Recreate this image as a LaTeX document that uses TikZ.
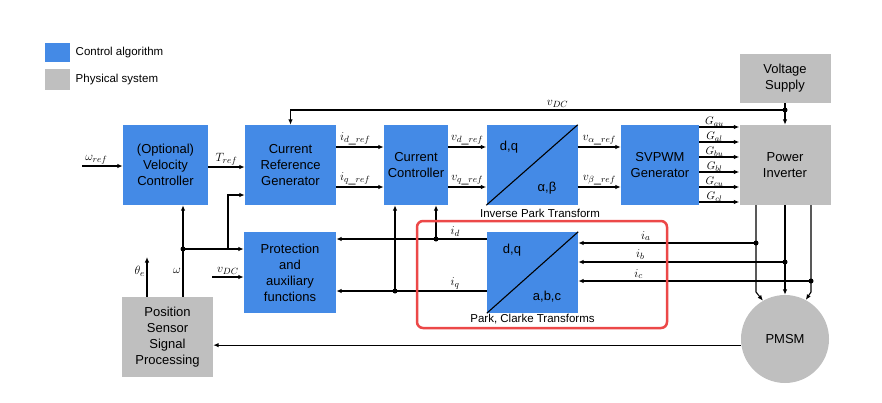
\documentclass[tikz,border=0pt]{standalone}
\usepackage{fontspec}
\setmainfont{Liberation Sans}
\usetikzlibrary{arrows.meta,positioning,calc}

\definecolor{ctrlblue}{RGB}{68,138,230}
\definecolor{physgray}{RGB}{191,191,191}
\definecolor{hired}{RGB}{236,72,72}

\begin{document}
\begin{tikzpicture}[
    x=1pt, y=-1pt,
    ctrl/.style={rectangle, fill=ctrlblue, align=center, inner sep=0pt, font=\fontsize{13}{16}\selectfont},
    phys/.style={ctrl, fill=physgray},
    arrow/.style={-{Latex[length=5.5pt,width=4.5pt]}, line width=1.1pt},
    lbl/.style={font=\fontsize{11.5}{13}\selectfont},
    sig/.style={font=\fontsize{12.5}{14}\selectfont, inner sep=1.5pt},
    gate/.style={font=\fontsize{11}{12}\selectfont, inner sep=0.3pt}
]
\useasboundingbox (0,0) rectangle (882,402);

% Legend
\node[ctrl, minimum width=25pt, minimum height=19pt] (legctrl) at (57.5,52.5) {};
\node[lbl, right=2pt of legctrl] {Control algorithm};
\node[phys, minimum width=25pt, minimum height=21pt] (legphys) at (57.5,79.5) {};
\node[lbl, right=2pt of legphys] {Physical system};

% Blocks
\node[ctrl, minimum width=85pt, minimum height=80pt] (vel) at (165.5,165) {(Optional)\\Velocity\\Controller};
\node[ctrl, minimum width=91pt, minimum height=80pt] (crg) at (290.5,165) {Current\\Reference\\Generator};
\node[ctrl, minimum width=64pt, minimum height=80pt] (cc) at (416,165) {Current\\Controller};
\node[ctrl, minimum width=91pt, minimum height=80pt] (ipark) at (532,165) {};
\node[ctrl, minimum width=78pt, minimum height=80pt] (svpwm) at (660,165) {SVPWM\\Generator};
\node[phys, minimum width=91pt, minimum height=49pt] (vs) at (785,78.5) {Voltage\\Supply};
\node[phys, minimum width=91pt, minimum height=80pt] (inv) at (785,165) {Power\\Inverter};
\node[ctrl, minimum width=91pt, minimum height=81pt] (park) at (532.5,272.5) {};
\node[ctrl, minimum width=92pt, minimum height=81pt] (prot) at (290,272.5) {Protection\\and\\auxiliary\\functions};
\node[phys, minimum width=91pt, minimum height=80pt] (pos) at (167.5,337) {Position\\Sensor\\Signal\\Processing};
\node[phys, circle, minimum size=88pt] (pmsm) at (785,339) {PMSM};

% Transform blocks
\draw[line width=1.1pt] (ipark.south west) -- (ipark.north east);
\node[ctrl, fill=none] (ipdq) at (509,147) {d,q};
\node[ctrl, fill=none] (ipab) at (547,188) {α,β};
\node[lbl] (iptxt) at (540,213) {Inverse Park Transform};
\draw[line width=1.1pt] (park.south west) -- (park.north east);
\node[ctrl, fill=none] (pkdq) at (512,250) {d,q};
\node[ctrl, fill=none] (pkabc) at (547,297) {a,b,c};
\node[lbl, below=0pt of park, inner sep=1pt] (pktxt) {Park, Clarke Transforms};

% Forward path
\coordinate (wref) at (82,166);
\draw[arrow] (wref) -- node[above, sig, pos=0.35] {$\omega_{ref}$} (vel.west |- wref);
\draw[arrow] (vel.east |- 0,167) -- node[above, sig] {$T_{ref}$} (crg.west |- 0,167);
\draw[arrow] (crg.east |- 0,147) -- node[above, sig, pos=0.4] {$i_{d\_ref}$} (cc.west |- 0,147);
\draw[arrow] (crg.east |- 0,187) -- node[above, sig, pos=0.4] {$i_{q\_ref}$} (cc.west |- 0,187);
\draw[arrow] (cc.east |- 0,147) -- node[above, sig] {$v_{d\_ref}$} (ipark.west |- 0,147);
\draw[arrow] (cc.east |- 0,187) -- node[above, sig] {$v_{q\_ref}$} (ipark.west |- 0,187);
\draw[arrow] (ipark.east |- 0,147) -- node[above, sig] {$v_{\alpha\_ref}$} (svpwm.west |- 0,147);
\draw[arrow] (ipark.east |- 0,187) -- node[above, sig] {$v_{\beta\_ref}$} (svpwm.west |- 0,187);
\foreach \g/\yy in {au/127, al/142, bu/157, bl/172, cu/187, cl/202}
  \draw[arrow] (svpwm.east |- 0,\yy) -- node[above, gate, pos=0.38] {$G_{\g}$} (inv.west |- 0,\yy);

% DC link
\coordinate (vdcdot) at (785,110);
\draw[arrow] (vs) -- (inv);
\draw[arrow] (vdcdot) -| node[above, sig, pos=0.23] {$v_{DC}$} (crg.north);
\fill (vdcdot) circle (2.5pt);

% Speed and position feedback
\coordinate (wdot) at (183,249);
\coordinate (tbr) at (228,249);
\coordinate (theta) at (147,257);
\coordinate (vdcin) at (212,277);
\draw[arrow] (pos.north -| wdot) -- node[left, sig, pos=0.28] {$\omega$} (vel.south -| wdot);
\draw[arrow] (wdot) -- (prot.west |- wdot);
\draw[arrow] (tbr) |- (crg.west |- 0,195);
\fill (wdot) circle (2.5pt);
\draw[arrow] (pos.north -| theta) -- node[left, sig, pos=0.65] {$\theta_e$} (theta);
\draw[arrow] (vdcin) -- node[above, sig] {$v_{DC}$} (prot.west |- vdcin);

% Current feedback
\coordinate (iddot) at (436,239);
\coordinate (iqdot) at (395,291);
\draw[arrow] (park.west |- iddot) -- node[above, sig, pos=0.21] {$i_d$} (prot.east |- iddot);
\draw[arrow] (park.west |- iqdot) -- node[above, sig, pos=0.21] {$i_q$} (prot.east |- iqdot);
\draw[arrow] (iddot) -- (cc.south -| iddot);
\draw[arrow] (iqdot) -- (cc.south -| iqdot);
\fill (iddot) circle (2.5pt);
\fill (iqdot) circle (2.5pt);

% Motor phases
\coordinate (pa) at (756,243);
\coordinate (pb) at (785,262);
\coordinate (pc) at (811,281);
\draw[arrow] (inv.south -| pa) -- (756,292) -- (pmsm.120);
\draw[arrow] (inv.south -| pb) -- (pmsm.north);
\draw[arrow] (inv.south -| pc) -- (811,292) -- (pmsm.62);
\draw[arrow] (pa) -- node[above, sig, pos=0.62] {$i_a$} (park.east |- pa);
\draw[arrow] (pb) -- node[above, sig, pos=0.7] {$i_b$} (park.east |- pb);
\draw[arrow] (pc) -- node[above, sig, pos=0.74] {$i_c$} (park.east |- pc);
\foreach \p in {pa,pb,pc}
  \fill (\p) circle (2.5pt);
\draw[arrow] (pmsm.188) -- (pmsm.188 -| pos.east);

% Highlight
\node[draw=hired, line width=2.5pt, rounded corners=6pt, minimum width=250pt, minimum height=107pt] (focus) at (542,274.5) {};

\end{tikzpicture}
\end{document}
